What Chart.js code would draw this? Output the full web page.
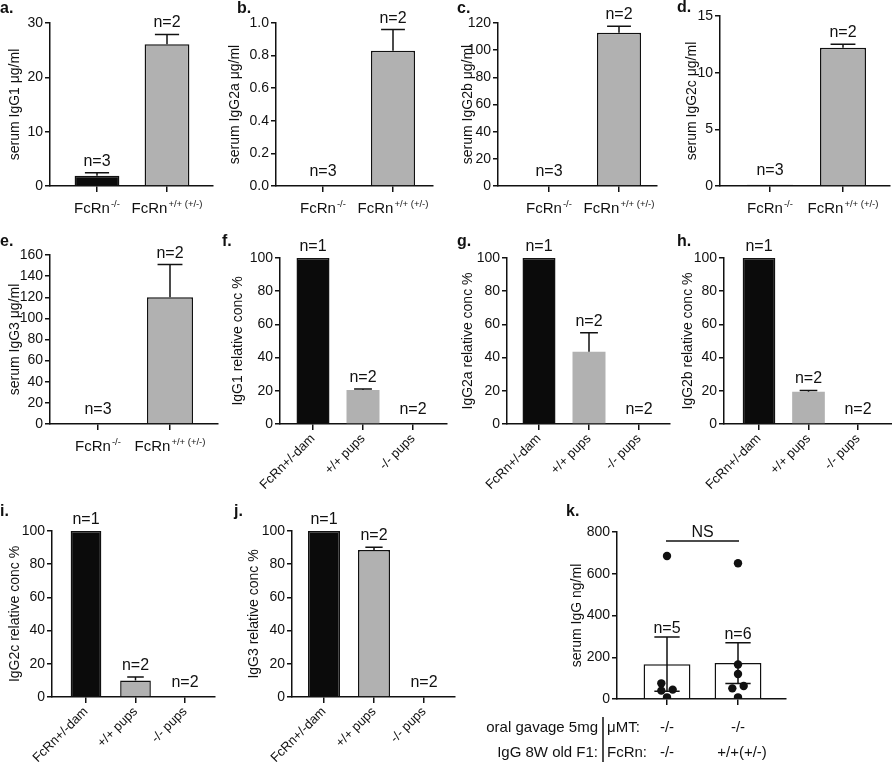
<!DOCTYPE html>
<html>
<head>
<meta charset="utf-8">
<script src="https://cdn.jsdelivr.net/npm/chart.js"></script>
<style>
body { margin:0; background:#fff; width:892px; height:765px; position:relative; overflow:hidden;
       font-family:'Liberation Sans', Arial, sans-serif; color:#111; }
canvas { position:absolute; }
.tag { position:absolute; font-weight:bold; font-size:16px; line-height:16px; }
</style>
</head>
<body>
<script>
// ---- data ----
// a-e: serum Ig of FcRn-/- vs FcRn+/+ (+/-)
const serumBase = 'FcRn';
const serumSup = ['-/-', '+/+ (+/-)'];
const serumN = ['n=3', 'n=2'];
const igg1Serum = [1.9, 26.1];   const igg1SerumErr = [0.55, 1.8];
const igg2aSerum = [0, 0.83];    const igg2aSerumErr = [0, 0.13];
const igg2bSerum = [0, 112.8];   const igg2bSerumErr = [0, 4.8];
const igg2cSerum = [0.1, 12.2];  const igg2cSerumErr = [0, 0.3];
const igg3Serum = [0, 120];      const igg3SerumErr = [0, 31];

// f-j: relative conc in pups
const pupCats = ['FcRn+/-dam', '+/+ pups', '-/- pups'];
const pupN = ['n=1', 'n=2', 'n=2'];
const igg1Pups = [100, 20.5, 0];  const igg1PupsErr = [0, 0.6, 0];
const igg2aPups = [100, 43.5, 0]; const igg2aPupsErr = [0, 11.5, 0];
const igg2bPups = [100, 19.5, 0]; const igg2bPupsErr = [0, 0.7, 0];
const igg2cPups = [100, 10, 0];   const igg2cPupsErr = [0, 2, 0];
const igg3Pups = [100, 88.5, 0];  const igg3PupsErr = [0, 1.7, 0];

// k: oral gavage
const kMT = ['-/-', '-/-'];
const kFcRn = ['-/-', '+/+(+/-)'];
const kHead = ['oral gavage 5mg', 'IgG 8W old F1:'];
const kRowNames = ['\u03bcMT:', 'FcRn:'];
const kN = ['n=5', 'n=6'];
const kMean = [167, 172];
const kSD = [130, 98];
const kPts1 = [685, 75, 40, 45, 8];
const kPts2 = [650, 165, 120, 51, 62, 8];
const kJit1 = [0, -0.08, -0.08, 0.08, 0];
const kJit2 = [0, 0, 0, -0.08, 0.08, 0];
const kSig = 'NS';
const kSigLevel = 757;

// tick values
const ticksA = [0, 10, 20, 30];
const ticksB = [0, 0.2, 0.4, 0.6, 0.8, 1.0];
const ticksC = [0, 20, 40, 60, 80, 100, 120];
const ticksD = [0, 5, 10, 15];
const ticksE = [0, 20, 40, 60, 80, 100, 120, 140, 160];
const ticksPct = [0, 20, 40, 60, 80, 100];
const ticksK = [0, 200, 400, 600, 800];

// ---- drawing ----
const FONT = "'Liberation Sans', Arial, sans-serif";
Chart.defaults.font.family = FONT;
Chart.defaults.color = '#111';
const INK = '#111';
const BLACK = '#0b0b0b', GREY = '#b1b1b1';

const figPlugin = {
  id: 'fig',
  afterDatasetDraw(chart, args, o) {
    if (args.index !== 0 || !o.err) return;
    const ctx = chart.ctx, ys = chart.scales.y;
    const data = chart.data.datasets[0].data;
    ctx.save();
    ctx.strokeStyle = INK; ctx.lineWidth = 1.5;
    chart.getDatasetMeta(0).data.forEach((bar, i) => {
      const up = o.err[i], down = o.errDown ? o.errDown[i] : 0;
      if (!up) return;
      const v = data[i].y, cap = bar.width * 0.27;
      const yTop = ys.getPixelForValue(v + up), yBot = ys.getPixelForValue(v - down);
      ctx.beginPath();
      ctx.moveTo(bar.x, yBot); ctx.lineTo(bar.x, yTop);
      ctx.moveTo(bar.x - cap, yTop); ctx.lineTo(bar.x + cap, yTop);
      if (down) { ctx.moveTo(bar.x - cap, yBot); ctx.lineTo(bar.x + cap, yBot); }
      ctx.stroke();
    });
    ctx.restore();
  },
  afterDraw(chart, args, o) {
    const ctx = chart.ctx, xs = chart.scales.x, ys = chart.scales.y, ca = chart.chartArea;
    const data = chart.data.datasets[0].data;
    ctx.save();
    ctx.fillStyle = INK; ctx.strokeStyle = INK;
    if (o.nLabels) {
      ctx.font = '16px ' + FONT; ctx.textAlign = 'center';
      o.nLabels.forEach((s, i) => {
        const py = ys.getPixelForValue(data[i].y + (o.err ? o.err[i] : 0));
        const gap = ca.bottom - py < 4 ? 10 : o.nGap;
        ctx.fillText(s, xs.getPixelForValue(i), py - gap);
      });
    }
    if (o.sups) {
      ctx.textAlign = 'left';
      o.sups.forEach((s, i) => {
        ctx.font = '15px ' + FONT; const w1 = ctx.measureText(o.supBase).width;
        ctx.font = '9.5px ' + FONT; const w2 = ctx.measureText(s).width;
        const x0 = xs.getPixelForValue(i) - (w1 + w2 + 1) / 2, yb = ca.bottom + 27;
        ctx.font = '15px ' + FONT; ctx.fillText(o.supBase, x0, yb);
        ctx.font = '9.5px ' + FONT; ctx.fillText(s, x0 + w1 + 1, yb - 6);
      });
    }
    if (o.sig) {
      const py = ys.getPixelForValue(o.sig.level);
      const x0 = xs.getPixelForValue(0), x1 = xs.getPixelForValue(1);
      ctx.lineWidth = 1.5;
      ctx.beginPath(); ctx.moveTo(x0 - 1, py); ctx.lineTo(x1 + 1, py); ctx.stroke();
      ctx.font = '16px ' + FONT; ctx.textAlign = 'center';
      ctx.fillText(o.sig.text, (x0 + x1) / 2, py - 4);
    }
    if (o.table) {
      const t = o.table, r1 = ca.bottom + 33, r2 = ca.bottom + 58;
      ctx.font = '15px ' + FONT;
      ctx.textAlign = 'right';
      ctx.fillText(t.head[0], ca.left - 19, r1);
      ctx.fillText(t.head[1], ca.left - 19, r2);
      ctx.textAlign = 'left';
      ctx.fillText(t.names[0], ca.left - 10, r1);
      ctx.fillText(t.names[1], ca.left - 10, r2);
      ctx.lineWidth = 1.5;
      ctx.beginPath(); ctx.moveTo(ca.left - 14, ca.bottom + 18); ctx.lineTo(ca.left - 14, ca.bottom + 63); ctx.stroke();
      ctx.textAlign = 'center';
      t.rows[0].forEach((s, i) => ctx.fillText(s, xs.getPixelForValue(i), r1));
      t.rows[1].forEach((s, i) => ctx.fillText(s, xs.getPixelForValue(i) + (i ? 4 : 0), r2));
    }
    ctx.restore();
  }
};

function panel(p) {
  const [l, t, r, b] = p.box;
  const [X, T, R, B] = p.area;
  const cv = document.createElement('canvas');
  cv.width = r - l; cv.height = b - t;
  cv.style.left = l + 'px'; cv.style.top = t + 'px';
  document.body.appendChild(cv);
  const n = p.values.length;
  const sp = (p.centers[n - 1] - p.centers[0]) / (n - 1);
  const xmin = -(p.centers[0] - X) / sp;
  const xmax = (n - 1) + (R - p.centers[n - 1]) / sp;
  const datasets = [{
    type: 'bar',
    data: p.values.map((v, i) => ({x: i, y: v})),
    backgroundColor: p.colors,
    borderColor: INK,
    borderWidth: p.borders,
    barPercentage: p.barFrac,
    categoryPercentage: 1,
    order: 2
  }];
  if (p.points) datasets.push({
    type: 'scatter', data: p.points, backgroundColor: INK, borderWidth: 0,
    pointRadius: 4.2, order: 1
  });
  const lab = p.rotLabels;
  const titleLH = 14 * 1.2;
  new Chart(cv, {
    type: 'bar',
    data: {datasets},
    options: {
      responsive: false, animation: false, devicePixelRatio: 1,
      layout: {padding: {left: 0, top: T - t, right: r - R, bottom: 0}},
      plugins: {
        legend: {display: false}, tooltip: {enabled: false},
        fig: Object.assign({nGap: 7}, p.fig)
      },
      scales: {
        x: {
          type: 'linear', min: xmin, max: xmax, offset: false,
          afterBuildTicks: s => { s.ticks = p.values.map((_, i) => ({value: i})); },
          afterFit: s => { s.height = b - B; },
          grid: {display: true, offset: false, drawOnChartArea: false, tickLength: 6, color: INK, lineWidth: 1.5},
          border: {color: INK, width: 1.5},
          ticks: lab ? {display: true, autoSkip: false, minRotation: 45, maxRotation: 45, padding: 1,
                        font: {size: 13}, color: INK, callback: v => lab[v]}
                     : {display: false}
        },
        y: {
          min: p.yTicks[0], max: p.yTicks[p.yTicks.length - 1],
          afterBuildTicks: s => { s.ticks = p.yTicks.map(v => ({value: v})); },
          afterFit: s => { s.width = X - l; },
          grid: {drawOnChartArea: false, tickLength: 5, color: INK, lineWidth: 1.5},
          border: {color: INK, width: 1.5},
          ticks: {padding: 2, font: {size: 14}, color: INK,
                  callback: v => p.yFmt ? p.yFmt(v) : String(v)},
          title: {display: true, text: p.title, font: {size: 14, lineHeight: 1.2}, color: INK,
                  padding: {top: p.titleX - l - titleLH / 2, bottom: 0}}
        }
      }
    },
    plugins: [figPlugin]
  });
}

function tag(txt, x, y) {
  const d = document.createElement('div');
  d.className = 'tag'; d.textContent = txt;
  d.style.left = x + 'px'; d.style.top = y + 'px';
  document.body.appendChild(d);
}

const serumColors = [BLACK, GREY];
const pupColors = [BLACK, GREY, GREY];

panel({box: [0, 0, 218, 225], area: [50, 23, 213, 186], centers: [97, 167], titleX: 15,
  values: igg1Serum, yTicks: ticksA, title: 'serum IgG1 \u03bcg/ml', colors: serumColors, borders: 1.5, barFrac: 0.64,
  fig: {err: igg1SerumErr, nLabels: serumN, supBase: serumBase, sups: serumSup}});
panel({box: [222, 0, 438, 225], area: [276, 23, 433, 186], centers: [323, 393], titleX: 235,
  values: igg2aSerum, yTicks: ticksB, yFmt: v => v.toFixed(1), title: 'serum IgG2a \u03bcg/ml', colors: serumColors, borders: 1.5, barFrac: 0.63,
  fig: {err: igg2aSerumErr, nLabels: serumN, supBase: serumBase, sups: serumSup}});
panel({box: [445, 0, 660, 225], area: [498, 23, 657, 186], centers: [549, 619], titleX: 468,
  values: igg2bSerum, yTicks: ticksC, title: 'serum IgG2b \u03bcg/ml', colors: serumColors, borders: 1.5, barFrac: 0.63,
  fig: {err: igg2bSerumErr, nLabels: serumN, supBase: serumBase, sups: serumSup}});
panel({box: [665, 0, 892, 225], area: [720, 16, 890, 186], centers: [770, 843], titleX: 692,
  values: igg2cSerum, yTicks: ticksD, title: 'serum IgG2c \u03bcg/ml', colors: serumColors, borders: 1.5, barFrac: 0.63,
  fig: {err: igg2cSerumErr, nLabels: serumN, supBase: serumBase, sups: serumSup}});
panel({box: [0, 235, 222, 460], area: [50, 255, 218, 424], centers: [98, 170], titleX: 15,
  values: igg3Serum, yTicks: ticksE, title: 'serum IgG3 \u03bcg/ml', colors: serumColors, borders: 1.5, barFrac: 0.64,
  fig: {err: igg3SerumErr, nLabels: serumN, supBase: serumBase, sups: serumSup}});

panel({box: [222, 235, 450, 500], area: [280, 258, 447, 424], centers: [313, 363, 413], titleX: 238,
  values: igg1Pups, yTicks: ticksPct, title: 'IgG1 relative conc %', colors: pupColors, borders: [1.5, 0, 0], barFrac: 0.66,
  rotLabels: pupCats, fig: {err: igg1PupsErr, nLabels: pupN}});
panel({box: [445, 235, 672, 500], area: [507, 258, 670, 424], centers: [539, 589, 639], titleX: 468,
  values: igg2aPups, yTicks: ticksPct, title: 'IgG2a relative conc %', colors: pupColors, borders: [1.5, 0, 0], barFrac: 0.66,
  rotLabels: pupCats, fig: {err: igg2aPupsErr, nLabels: pupN}});
panel({box: [665, 235, 892, 500], area: [724, 258, 892, 424], centers: [759, 808, 858], titleX: 688,
  values: igg2bPups, yTicks: ticksPct, title: 'IgG2b relative conc %', colors: pupColors, borders: [1.5, 0, 0], barFrac: 0.66,
  rotLabels: pupCats, fig: {err: igg2bPupsErr, nLabels: pupN}});
panel({box: [0, 500, 225, 765], area: [52, 531, 215, 697], centers: [86, 135, 185], titleX: 15,
  values: igg2cPups, yTicks: ticksPct, title: 'IgG2c relative conc %', colors: pupColors, borders: 1.5, barFrac: 0.62,
  rotLabels: pupCats, fig: {err: igg2cPupsErr, nLabels: pupN}});
panel({box: [240, 500, 460, 765], area: [292, 531, 455, 697], centers: [324, 374, 424], titleX: 254,
  values: igg3Pups, yTicks: ticksPct, title: 'IgG3 relative conc %', colors: pupColors, borders: 1.5, barFrac: 0.64,
  rotLabels: pupCats, fig: {err: igg3PupsErr, nLabels: pupN}});

const kPoints = kPts1.map((v, i) => ({x: kJit1[i], y: v}))
  .concat(kPts2.map((v, i) => ({x: 1 + kJit2[i], y: v})));
panel({box: [470, 490, 892, 765], area: [617, 532, 786, 699], centers: [667, 738], titleX: 577,
  values: kMean, yTicks: ticksK, title: 'serum IgG ng/ml', colors: ['#fff', '#fff'], borders: 1.5, barFrac: 0.66,
  points: kPoints,
  fig: {err: kSD, errDown: kSD, nLabels: kN, nGap: 4, sig: {text: kSig, level: kSigLevel},
        table: {head: kHead, names: kRowNames, rows: [kMT, kFcRn]}}});

tag('a.', 0, 0); tag('b.', 237, 0); tag('c.', 457, 0); tag('d.', 677, -1);
tag('e.', 0, 233); tag('f.', 222, 233); tag('g.', 457, 233); tag('h.', 677, 233);
tag('i.', 0, 503); tag('j.', 234, 503); tag('k.', 566, 503);
</script>
</body>
</html>
